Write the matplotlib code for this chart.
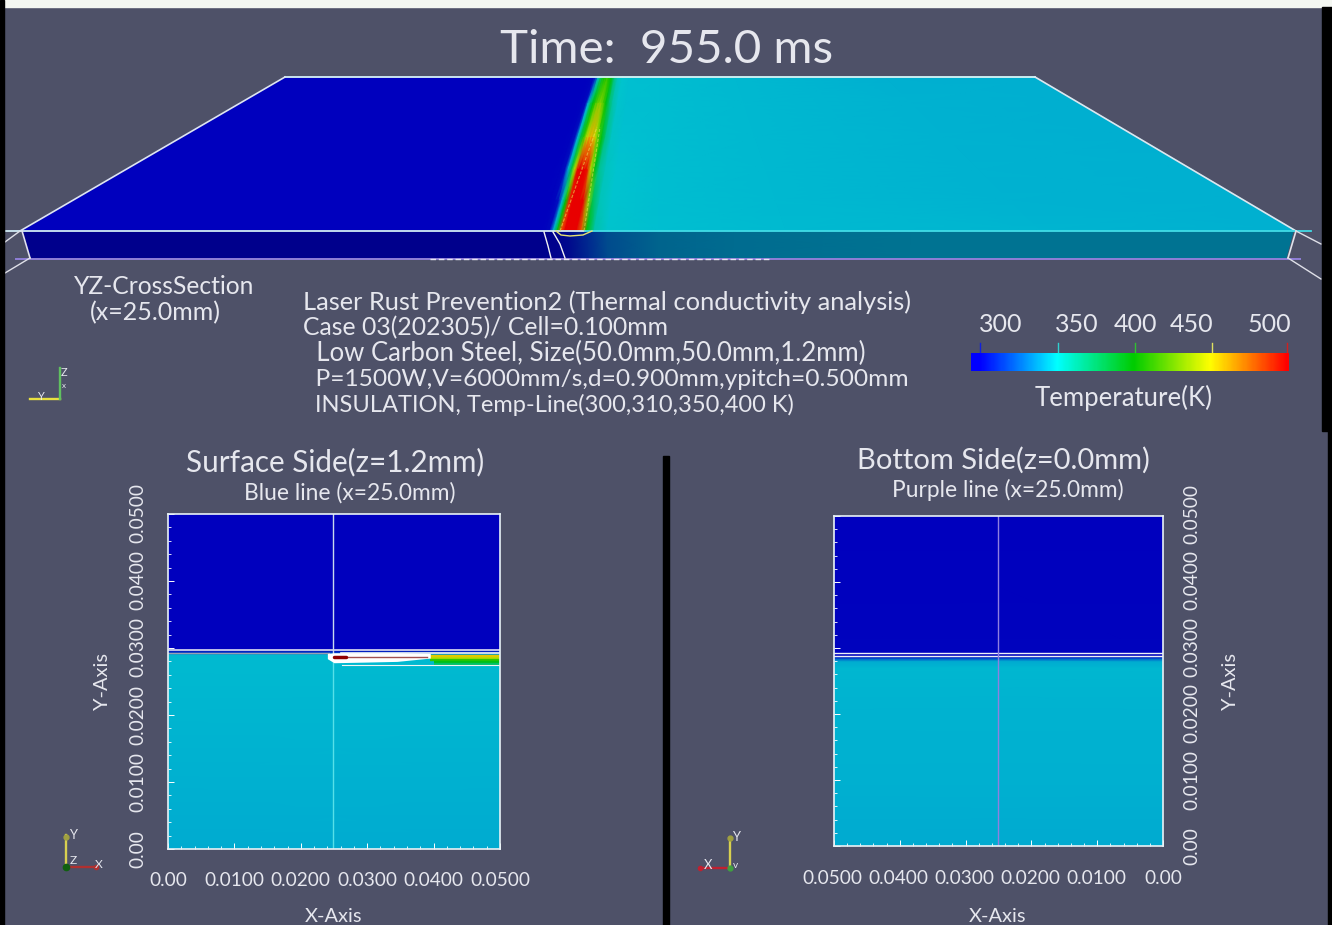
import numpy as np
import matplotlib
matplotlib.use("Agg")
import matplotlib.pyplot as plt
from matplotlib.colors import LinearSegmentedColormap, Normalize
from matplotlib.patches import Rectangle

W, H = 1332, 925
BG = "#4e5168"
TXT = "#e6e7ee"
plt.rcParams["font.family"] = ["Lato", "DejaVu Sans"]

# ---------- data ----------
title = "Time:  955.0 ms"
info_lines = ["Laser Rust Prevention2 (Thermal conductivity analysis)",
              "Case 03(202305)/ Cell=0.100mm",
              "  Low Carbon Steel, Size(50.0mm,50.0mm,1.2mm)",
              "  P=1500W,V=6000mm/s,d=0.900mm,ypitch=0.500mm",
              "  INSULATION, Temp-Line(300,310,350,400 K)"]
info_sizes = [25.4, 24.7, 25.7, 24.5, 23.6]
cbar_ticks = [300, 350, 400, 450, 500]
axis_ticks = [0.0, 0.01, 0.02, 0.03, 0.04, 0.05]
axis_ticklabels = ["0.00", "0.0100", "0.0200", "0.0300", "0.0400", "0.0500"]

# top perspective view: lateral position (fraction of width), scan position rows
lat = [0.0, 0.30, 0.40, 0.408, 0.412, 0.415, 0.418, 0.421, 0.424, 0.427, 0.430, 0.433,
       0.436, 0.440, 0.444, 0.450, 0.46, 0.50, 0.60, 0.80, 1.0]
rows = [0.0, 0.17, 0.39, 0.60, 0.80, 1.0]     # 0 = far edge, 1 = near edge
T_r0 = [300, 300, 300, 301, 302, 310, 345, 372, 392, 402, 408, 402, 392, 365, 354, 350, 348, 347, 345, 341, 340]
T_r1 = [300, 300, 300, 301, 304, 345, 380, 400, 415, 425, 428, 415, 398, 375, 360, 351, 348, 347, 345, 342, 340]
T_r2 = [300, 300, 300, 301, 306, 345, 385, 410, 440, 460, 460, 445, 415, 395, 368, 353, 349, 347, 345, 342, 340]
T_r3 = [300, 300, 300, 301, 304, 340, 385, 440, 500, 515, 510, 495, 440, 395, 365, 354, 350, 347, 345, 342, 341]
T_r4 = [300, 300, 300, 300, 302, 306, 345, 400, 490, 515, 520, 520, 505, 430, 380, 356, 350, 347, 345, 342, 341]
T_r5 = [300, 300, 300, 300, 301, 303, 340, 395, 480, 525, 540, 540, 530, 480, 400, 360, 351, 348, 346, 343, 341]

# side face
side_lat = [0.0, 0.40, 0.42, 0.43, 0.445, 0.46, 0.50, 0.56, 0.70, 1.0]
side_T   = [300, 300, 301, 305, 320, 330, 338, 342, 345, 345]

# surface panel: temperature against Y
surf_y = [0.0, 0.0100, 0.0200, 0.0270, 0.0285, 0.0290, 0.0293, 0.0297, 0.0500]
surf_T = [339, 341, 343, 345, 346, 345, 320, 300, 300]
# bottom panel
bot_y = [0.0, 0.0100, 0.0200, 0.0270, 0.0280, 0.0285, 0.0288, 0.0500]
bot_T = [338, 341, 342, 344, 338, 318, 301, 300]

# surface streak bands on the right half of the surface panel
streak_x0 = [0.0390, 0.0395, 0.0395, 0.0400, 0.0400]
streak_y  = [0.0288, 0.0285, 0.0282, 0.0279, 0.0276]
streak_T  = [455, 440, 410, 395, 375]

# ---------- colour maps ----------
vivid = LinearSegmentedColormap.from_list("vivid", [
    (0.00, (0, 0, 1)), (0.25, (0, 1, 1)), (0.50, (0, .8, 0)), (0.75, (1, 1, 0)), (1.00, (1, 0, 0))])
lit = LinearSegmentedColormap.from_list("lit", [
    (0.00, "#0000be"), (0.10, "#0046c8"), (0.18, "#00a6d0"), (0.25, "#00c4d0"),
    (0.50, "#00c000"), (0.75, "#e6e000"), (1.00, "#e80000")])
shaded = LinearSegmentedColormap.from_list("shaded", [
    (0.00, "#00008c"), (0.10, "#002a90"), (0.18, "#00608c"), (0.25, "#007f96"), (1.00, "#007f96")])
norm = Normalize(300, 500)

fig = plt.figure(figsize=(W / 100, H / 100), dpi=100, facecolor=BG)
ov = fig.add_axes([0, 0, 1, 1])
ov.set_xlim(0, W); ov.set_ylim(H, 0); ov.axis("off")

# ---------- top view ----------
y_far, y_near = 77, 231
xl_far, xr_far, xl_near, xr_near = 285, 1035, 20, 1296
Z = np.array([T_r0, T_r1, T_r2, T_r3, T_r4, T_r5])
r, l = np.meshgrid(rows, lat, indexing="ij")
X = (xl_far + (xl_near - xl_far) * r) + l * ((xr_far - xl_far) + ((xr_near - xl_near) - (xr_far - xl_far)) * r)
Y = y_far + (y_near - y_far) * r
ov.pcolormesh(X, Y, Z, cmap=lit, norm=norm, shading="gouraud", zorder=2)

ZS = np.array([side_T, side_T])
xs_top = 22 + np.array(side_lat) * (1293 - 22)
xs_bot = 30 + np.array(side_lat) * (1286 - 30)
ov.pcolormesh(np.array([xs_top, xs_bot]), np.array([[232] * len(side_lat), [258] * len(side_lat)]),
              ZS, cmap=shaded, norm=norm, shading="gouraud", zorder=2)

ov.plot([285, 1035], [77, 77], color="#d8f4f6", lw=1.3, zorder=4)
ov.plot([285, 20], [77, 231], color="#dfe6ee", lw=1.2, zorder=4)
ov.plot([1035, 1296], [77, 231], color="#dfe6ee", lw=1.2, zorder=4)
ov.plot([6, 585], [231, 231], color="#cfeaf4", lw=1.3, zorder=4)
ov.plot([585, 1311], [231, 231], color="#41dbe6", lw=1.3, zorder=4)
ov.plot([16, 1300], [258.5, 258.5], color="#8f7fd8", lw=1.4, zorder=4)
ov.plot([430, 770], [258.5, 258.5], color="#e6e6f0", lw=1, ls=(0, (4, 2)), zorder=5)
ov.plot([22, 30], [231, 258], color="#e2e2ea", lw=1.2, zorder=4)
ov.plot([1296, 1288], [231, 258], color="#e2e2ea", lw=1.2, zorder=4)
for xs, ys in [([20, 5], [231, 242]), ([30, 5], [258, 273]), ([1296, 1321], [231, 244]), ([1288, 1321], [258, 279])]:
    ov.plot(xs, ys, color="#dfe0e8", lw=1, zorder=4)
# isotherms in the side face
ov.plot([544, 548, 551], [232, 246, 258], color="#f2f2f2", lw=1, zorder=5)
ov.plot([553, 560, 565], [232, 244, 258], color="#f2f2f2", lw=1, zorder=5)
ov.plot([556, 561, 570, 583, 592], [231, 235, 236, 235, 231], color="#e8e070", lw=1, zorder=5)
# hot-band edge lines
ov.plot([560, 597], [231, 127], color="#e8e050", lw=0.8, ls=(0, (3, 1.5)), alpha=.6, zorder=5)
ov.plot([584, 600], [231, 127], color="#e8e050", lw=0.8, ls=(0, (3, 1.5)), alpha=.6, zorder=5)

# ---------- frame strips ----------
ov.add_patch(Rectangle((0, 0), W, 7, color="#f4f7f2", zorder=6))
ov.add_patch(Rectangle((0, 0), 4, H, color="black", zorder=6))
ov.add_patch(Rectangle((1322, 7), 10, 424, color="black", zorder=6))
ov.add_patch(Rectangle((1328, 431), 4, H - 431, color="black", zorder=6))
ov.add_patch(Rectangle((663, 456), 5.5, H - 456, color="black", zorder=6))

# ---------- texts ----------
def T(x, y, s, px, ha="left", va="center", rot=0, **k):
    ov.text(x, y, s, fontsize=px * 0.72, color=TXT, ha=ha, va=va, rotation=rot, zorder=8, **k)

T(667, 50, title, 47.5, ha="center")
T(164, 287, "YZ-CrossSection", 24.6, ha="center")
T(155, 313, "(x=25.0mm)", 25, ha="center")
for i, (s, sz) in enumerate(zip(info_lines, info_sizes)):
    T(303, 302 + i * 25.8, s, sz)
T(1124, 398, "Temperature(K)", 25.7, ha="center")
T(335, 462, "Surface Side(z=1.2mm)", 29.6, ha="center")
T(350, 493, "Blue line (x=25.0mm)", 22.7, ha="center")
T(1003, 460, "Bottom Side(z=0.0mm)", 29.1, ha="center")
T(1008, 490, "Purple line (x=25.0mm)", 22.8, ha="center")
T(334, 916, "X-Axis", 20, ha="center")
T(998, 916, "X-Axis", 20, ha="center")
T(102, 681, "Y-Axis", 20, ha="center", rot=90)
T(1231, 681, "Y-Axis", 20, ha="center", rot=90)

# ---------- colour bar ----------
cb = fig.add_axes([971 / W, 1 - 371 / H, 318 / W, 18 / H])
cb_vals = np.linspace(294, 501, 300)
cb.pcolormesh(cb_vals, [0, 1], np.array([cb_vals, cb_vals]), cmap=vivid, norm=norm, shading="gouraud")
cb.set_xlim(294, 501); cb.set_ylim(0, 1); cb.axis("off")
cb_px = [1001, 1077, 1135, 1192, 1269]
tick_x = [980, 1058, 1135, 1212, 1287]
tick_col = ["#1020e0", "#30d0d0", "#30c030", "#e0e060", "#d02020"]
for tx, lx, v, c in zip(tick_x, cb_px, cbar_ticks, tick_col):
    T(lx, 325, str(v), 25, ha="center")
    ov.plot([tx, tx], [343, 352], color=c, lw=1, zorder=5)

# ---------- lower panels ----------
def panel(x0, x1, y0, y1, yy, tt, reverse):
    ax = fig.add_axes([x0 / W, 1 - y1 / H, (x1 - x0) / W, (y1 - y0) / H])
    ax.pcolormesh([0, 0.05], yy, np.array([tt, tt]).T, cmap=lit, norm=norm, shading="gouraud")
    ax.set_xlim(0.05, 0) if reverse else ax.set_xlim(0, 0.05)
    ax.set_ylim(0, 0.05)
    ax.set_xticks(axis_ticks); ax.set_yticks(axis_ticks)
    ax.set_xticks(np.arange(0, 0.0501, 0.002), minor=True)
    ax.set_yticks(np.arange(0, 0.0501, 0.002), minor=True)
    ax.tick_params(which="major", direction="in", length=4, width=.7, color="white",
                   labelbottom=False, labelleft=False, top=False, right=False)
    ax.tick_params(which="minor", direction="in", length=2, width=.6, color="white", top=False, right=False)
    for s in ax.spines.values():
        s.set_color("#e8f2f6"); s.set_linewidth(1.2)
    return ax

a1 = panel(168, 500, 514, 849, surf_y, surf_T, False)
a2 = panel(834, 1163, 516, 846, bot_y, bot_T, True)

# surface details
for xs, ys, tv in zip(streak_x0, streak_y, streak_T):
    a1.plot([xs, 0.05], [ys, ys], color=lit(norm(tv)), lw=1.7, solid_capstyle="butt")
a1.plot([0, 0.05], [0.0297, 0.0297], color="#f2f4f6", lw=1.1)
a1.plot([0.0260, 0.05], [0.0292, 0.0292], color="#f2f4f6", lw=1.2)
a1.plot([0, 0.0243], [0.0292, 0.0292], color="#9aa0b0", lw=1.0)
a1.fill_between([0.0240, 0.0250, 0.0300, 0.0345, 0.0395], [0.0284, 0.0278, 0.0279, 0.0280, 0.0285],
                [0.0292, 0.0293, 0.0293, 0.0293, 0.0292], color="white", zorder=3, lw=0)
a1.plot([0.0250, 0.0390], [0.0286, 0.0286], color="#a05050", lw=1.0, zorder=4)
a1.plot([0.0250, 0.0268], [0.0286, 0.0286], color="#900000", lw=2.5, zorder=4, solid_capstyle="round")
a1.plot([0.0262, 0.0345, 0.0500], [0.0274, 0.0274, 0.0274], color="#f0f4f4", lw=.8)
a1.plot([0.0249, 0.0249], [0.0292, 0.05], color="#c8d8ee", lw=1)
a1.plot([0.0249, 0.0249], [0, 0.0279], color="#55e0e8", lw=1)

# bottom details
for yv in (0.0292, 0.0288):
    a2.plot([0, 0.05], [yv, yv], color="#eef0f6", lw=1)
a2.plot([0.0251, 0.0251], [0, 0.05], color="#8f80e0", lw=1)

# ---------- tick labels ----------
for v, s in zip(axis_ticks, axis_ticklabels):
    T(168 + v / 0.05 * 332, 880, s, 19, ha="center")
    T(138, 849 - v / 0.05 * 336, s, 19, ha="center", rot=90)
    T(1163 - v / 0.05 * 331, 879, s, 19, ha="center")
    T(1192, 846 - v / 0.05 * 332, s, 19, ha="center", rot=90)

# ---------- orientation triads ----------
def axis_line(x0, y0, x1, y1, c):
    ov.plot([x0, x1], [y0, y1], color=c, lw=1.7, zorder=7)

def lab(x, y, s, px=11):
    ov.text(x, y, s, color=TXT, fontsize=px * .72, ha="center", va="center", zorder=8)

axis_line(60, 399, 30, 399, "#e8e040"); axis_line(60, 399, 60, 368, "#60c060")
lab(40, 396, "Y"); lab(64, 372, "Z"); lab(64, 386, "x", 8)

axis_line(66, 867, 66, 835, "#d8d050"); axis_line(66, 867, 96, 867, "#b03030")
ov.plot([66], [867], "o", ms=4.5, color="#106010", zorder=8)
ov.plot([96], [867], "o", ms=3, color="#b03030", zorder=8)
ov.plot([66], [837], "o", ms=3.5, color="#a0a040", zorder=8)
lab(73, 835, "Y", 13); lab(73, 861, "Z", 12); lab(99, 864, "X", 12)

axis_line(730, 868, 730, 838, "#d8d050"); axis_line(730, 868, 700, 868, "#c02030")
ov.plot([730], [868], "o", ms=3.5, color="#40a040", zorder=8)
ov.plot([730], [838], "o", ms=3.5, color="#a0a040", zorder=8)
ov.plot([700], [868], "o", ms=3, color="#c02030", zorder=8)
lab(736, 837, "Y", 13); lab(708, 865, "X", 13); lab(735, 866, "v", 10)

ov.set_zorder(5); ov.patch.set_alpha(0)
fig.savefig("out.png", dpi=100, facecolor=BG)
